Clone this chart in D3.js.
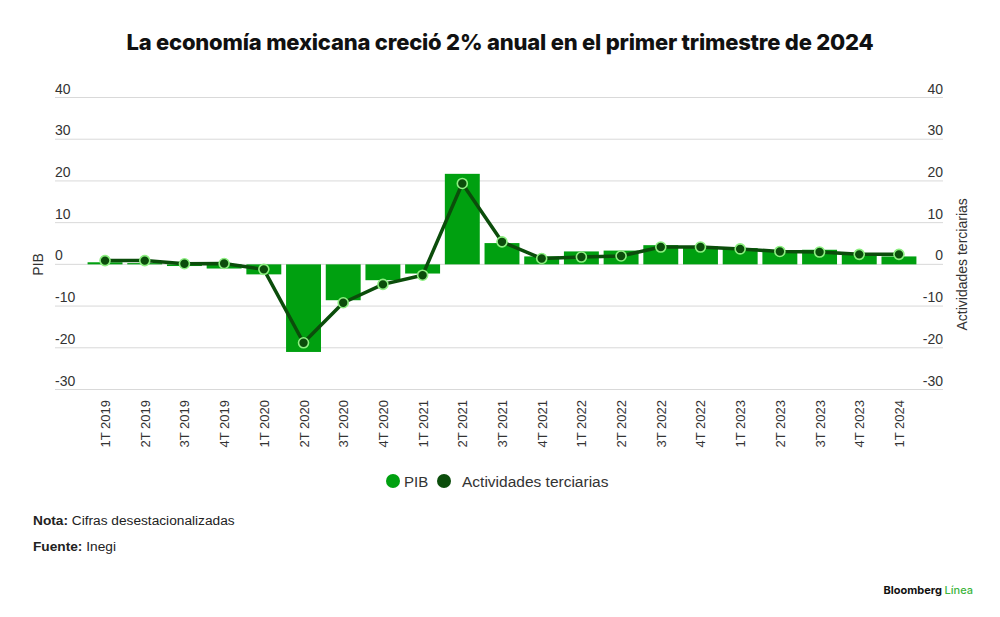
<!DOCTYPE html>
<html><head><meta charset="utf-8">
<script src="https://cdn.jsdelivr.net/npm/d3@7"></script>
<style>
body{margin:0;background:#fff;}
svg{display:block;font-family:"Liberation Sans",Arial,sans-serif;}
</style></head>
<body>
<svg id="c" width="1000" height="617"></svg>
<script>
const categories = ["1T 2019","2T 2019","3T 2019","4T 2019","1T 2020","2T 2020","3T 2020","4T 2020","1T 2021","2T 2021","3T 2021","4T 2021","1T 2022","2T 2022","3T 2022","4T 2022","1T 2023","2T 2023","3T 2023","4T 2023","1T 2024"];
const pib = [0.5, 0.3, -0.4, -1.0, -2.4, -21.0, -8.6, -3.8, -2.2, 21.7, 5.1, 1.9, 3.1, 3.3, 4.6, 4.3, 3.9, 3.4, 3.5, 2.5, 1.9];
const terciarias = [0.9, 0.9, 0.15, 0.2, -1.2, -18.8, -9.2, -4.8, -2.6, 19.4, 5.4, 1.4, 1.75, 2.0, 4.15, 4.15, 3.7, 3.1, 2.95, 2.4, 2.4];
const yTicks = [40, 30, 20, 10, 0, -10, -20, -30];

const svg = d3.select("#c");
const x = d3.scaleBand().domain(categories).range([85.2, 918.8]).paddingInner(0.12).paddingOuter(0.06);
const y = d3.scaleLinear().domain([-30, 40]).range([389.5, 97.5]);

const barCol = "#00a010", lineCol = "#0b4d0b", dotStroke = "#8cf080";

// title
svg.append("text").attr("x", 500).attr("y", 50).attr("text-anchor", "middle")
  .attr("font-family", "Inter, 'Liberation Sans', sans-serif").attr("font-weight", 800)
  .attr("font-size", 22).attr("fill", "#111").attr("letter-spacing", -0.2)
  .text("La economía mexicana creció 2% anual en el primer trimestre de 2024");

// grid
const grid = svg.append("g");
grid.selectAll("line").data(yTicks).join("line")
  .attr("x1", 55).attr("x2", 943).attr("y1", d => y(d)).attr("y2", d => y(d))
  .attr("stroke", "#d9d9d9").attr("stroke-width", 1);
// left labels
svg.append("g").selectAll("text").data(yTicks).join("text")
  .attr("x", 55).attr("y", d => y(d) - 4).attr("font-size", 14).attr("fill", "#333")
  .text(d => d);
// right labels
svg.append("g").selectAll("text").data(yTicks).join("text")
  .attr("x", 943).attr("y", d => y(d) - 4).attr("font-size", 14).attr("fill", "#333")
  .attr("text-anchor", "end").text(d => d);

// axis titles
svg.append("text").attr("transform", `translate(43,${y(0)}) rotate(-90)`).attr("text-anchor", "middle")
  .attr("font-size", 14).attr("fill", "#333").text("PIB");
svg.append("text").attr("transform", `translate(967,${y(0)}) rotate(-90)`).attr("text-anchor", "middle")
  .attr("font-size", 14).attr("fill", "#333").text("Actividades terciarias");

// bars
svg.append("g").selectAll("rect").data(pib).join("rect")
  .attr("x", (d, i) => x(categories[i])).attr("width", x.bandwidth())
  .attr("y", d => y(Math.max(0, d))).attr("height", d => Math.abs(y(d) - y(0)))
  .attr("fill", barCol);

// line
const cx = i => x(categories[i]) + x.bandwidth() / 2;
svg.append("path").datum(terciarias)
  .attr("d", d3.line().x((d, i) => cx(i)).y(d => y(d)))
  .attr("fill", "none").attr("stroke", lineCol).attr("stroke-width", 3.5).attr("stroke-linejoin", "round");
svg.append("g").selectAll("circle").data(terciarias).join("circle")
  .attr("cx", (d, i) => cx(i)).attr("cy", d => y(d)).attr("r", 5)
  .attr("fill", lineCol).attr("stroke", dotStroke).attr("stroke-width", 1.6);

// x labels
svg.append("g").selectAll("text").data(categories).join("text")
  .attr("transform", (d, i) => `translate(${cx(i) + 5},400) rotate(-90)`)
  .attr("text-anchor", "end").attr("font-size", 13).attr("fill", "#333").text(d => d);

// legend
const lg = svg.append("g").attr("font-size", 15).attr("fill", "#333");
lg.append("circle").attr("cx", 393).attr("cy", 481).attr("r", 7).attr("fill", barCol);
lg.append("text").attr("x", 404).attr("y", 486.5).text("PIB");
lg.append("circle").attr("cx", 444).attr("cy", 481).attr("r", 7).attr("fill", lineCol);
lg.append("text").attr("x", 462).attr("y", 486.5).attr("font-size", 15.5).text("Actividades terciarias");

// footer
const f1 = svg.append("text").attr("x", 33).attr("y", 525).attr("font-size", 13.7).attr("fill", "#222");
f1.append("tspan").attr("font-weight", 700).text("Nota:");
f1.append("tspan").text(" Cifras desestacionalizadas");
const f2 = svg.append("text").attr("x", 33).attr("y", 551).attr("font-size", 13.7).attr("fill", "#222");
f2.append("tspan").attr("font-weight", 700).text("Fuente:");
f2.append("tspan").text(" Inegi");

const bl = svg.append("text").attr("x", 973).attr("y", 594).attr("text-anchor", "end")
  .attr("font-size", 11).attr("font-weight", 700).attr("font-family", "Inter, 'Liberation Sans', sans-serif");
bl.append("tspan").attr("fill", "#111").text("Bloomberg ");
bl.append("tspan").attr("fill", "#3cb43c").attr("font-weight", 500).text("Línea");
</script>
</body></html>
